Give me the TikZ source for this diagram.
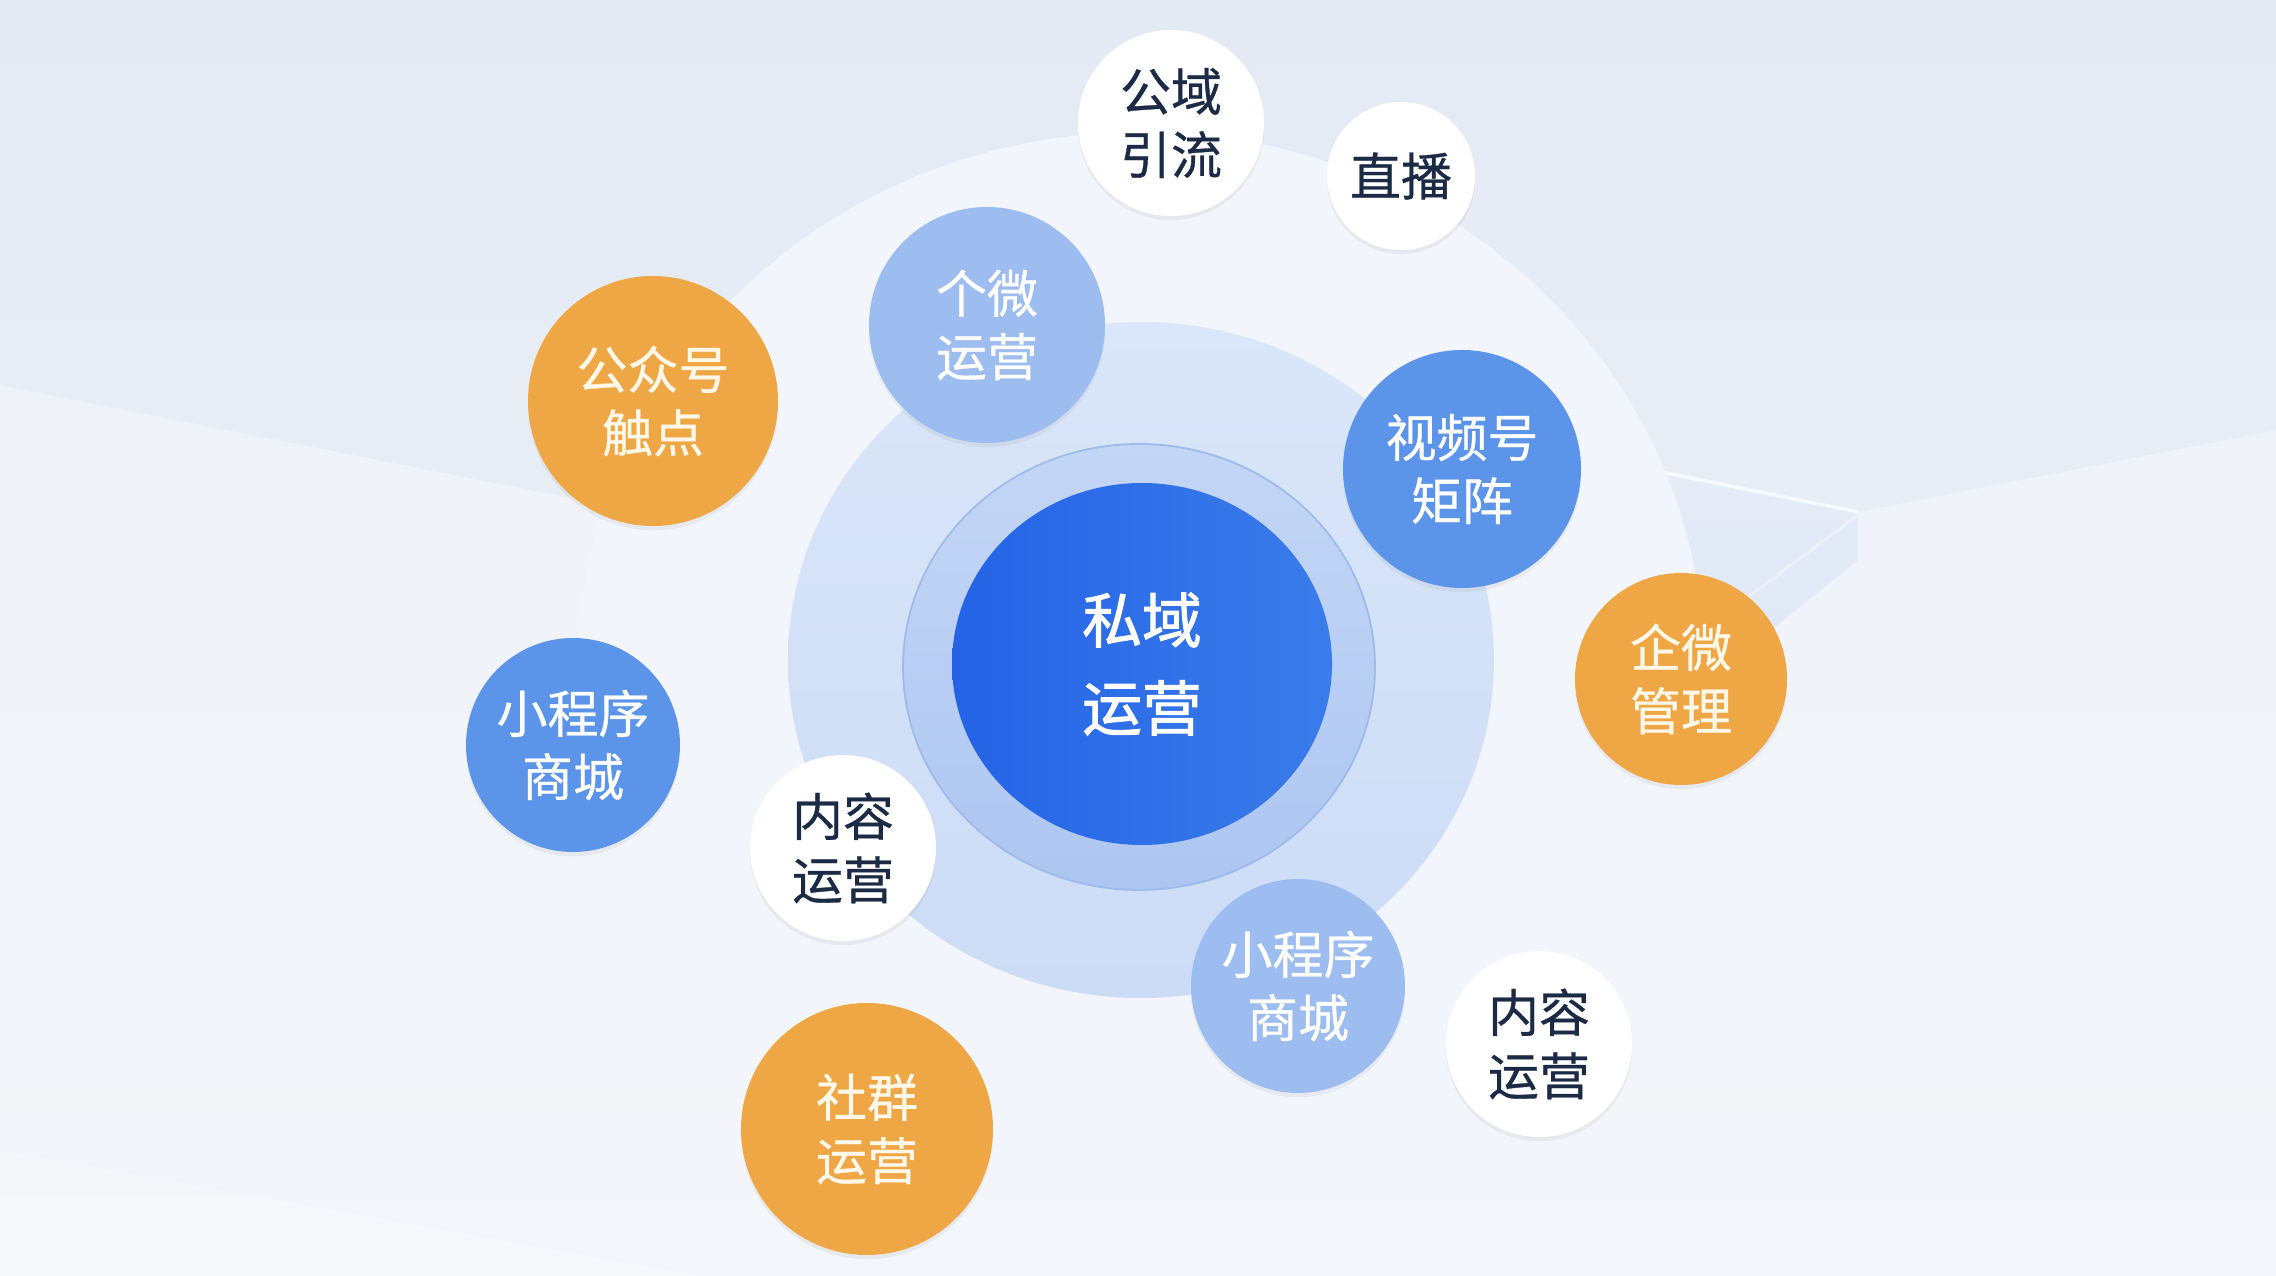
\documentclass[tikz,border=0pt]{standalone}
\usepackage{fontspec}
\newfontfamily\cjk[FakeBold=0.6]{Noto Sans CJK SC}
\newfontfamily\cjkc[FakeBold=1.6]{Noto Sans CJK SC}
\usetikzlibrary{shadows,shapes.geometric}
\definecolor{bgA}{HTML}{E4EAF4}
\definecolor{bgB}{HTML}{EEF2F8}
\definecolor{ringD}{HTML}{F2F6FC}
\definecolor{ringCa}{HTML}{DAE6F9}
\definecolor{ringCb}{HTML}{CCDCF6}
\definecolor{ringBa}{HTML}{C4D6F6}
\definecolor{ringBb}{HTML}{ADC6F1}
\definecolor{ringBe}{HTML}{9DBAEA}
\definecolor{coreA}{HTML}{2463E6}
\definecolor{coreB}{HTML}{3A7CEA}
\definecolor{orangeF}{HTML}{EFA644}
\definecolor{blueF}{HTML}{5B94E8}
\definecolor{lblueF}{HTML}{9DBCF0}
\definecolor{navyT}{HTML}{1C2B45}
\definecolor{creamT}{HTML}{FFF8E8}
\definecolor{tintB}{HTML}{CFDCF4}
\tikzset{
  bub/.style={circle, inner sep=0pt, align=center, font={\cjk\fontsize{14.5}{18}\selectfont},
    drop shadow={opacity=0.10, shadow xshift=0pt, shadow yshift=-1.2pt}},
  whiteb/.style={bub, fill=white, text=navyT},
  orangeb/.style={bub, fill=orangeF, text=creamT},
  blueb/.style={bub, fill=blueF, text=white},
  lblueb/.style={bub, fill=lblueF, text=white},
  ringe/.style={ellipse, inner sep=0pt},
}
\begin{document}
\begin{tikzpicture}[x=0.1mm, y=-0.1mm]
\useasboundingbox (0,0) rectangle (2276,1276);
% background
\shade[top color=bgA, bottom color=bgB] (0,0) rectangle (2276,1276);
\fill[white, opacity=0.35] (0,385) -- (580,500) -- (1627,465) -- (1858,512) -- (2276,430) -- (2276,1276) -- (0,1276) -- cycle;
\shade[top color=tintB!70!white, bottom color=tintB, opacity=0.55] (1627,465) -- (1858,512) -- (1858,560) -- (1610,760) -- cycle;
\draw[white, line width=1pt, opacity=0.7] (1627,465) -- (1858,512);
\draw[white, line width=0.8pt, opacity=0.4] (1858,515) -- (1610,700);
\fill[white, opacity=0.25] (0,1150) -- (700,1276) -- (0,1276) -- cycle;
% rings
\node[ringe, minimum width=112.6mm, minimum height=107mm, fill=ringD] (r4) at (1141,667) {};
\node[ringe, minimum width=70.6mm, minimum height=67.6mm, top color=ringCa, bottom color=ringCb] (r3) at (1141,660) {};
\node[ringe, minimum width=47.2mm, minimum height=44.6mm, top color=ringBa, bottom color=ringBb, draw=ringBe, line width=0.5pt] (r2) at (1139,667) {};
\node[ringe, minimum width=38mm, minimum height=36.2mm, shading angle=-30, left color=coreA, right color=coreB,
  text=white, align=center, font={\cjkc\fontsize{17}{25}\selectfont}] (core) at (1142,664) {私域\\运营};
% bubbles
\node[whiteb, minimum size=18.6mm] (gy) at (1171,123) {公域\\引流};
\node[whiteb, minimum size=14.8mm] (zb) at (1401,176) {直播};
\node[lblueb, minimum size=23.6mm] (gw) at (987,325) {个微\\运营};
\node[orangeb, minimum size=25.0mm] (gzh) at (653,401) {公众号\\触点};
\node[blueb, minimum size=23.8mm] (sph) at (1462,469) {视频号\\矩阵};
\node[orangeb, minimum size=21.2mm] (qw) at (1681,679) {企微\\管理};
\node[blueb, minimum size=21.4mm] (xcx1) at (573,745) {小程序\\商城};
\node[whiteb, minimum size=18.6mm] (nr1) at (843,848) {内容\\运营};
\node[lblueb, minimum size=21.4mm] (xcx2) at (1298,986) {小程序\\商城};
\node[whiteb, minimum size=18.6mm] (nr2) at (1539,1044) {内容\\运营};
\node[orangeb, minimum size=25.2mm] (sq) at (867,1129) {社群\\运营};
\end{tikzpicture}
\end{document}
